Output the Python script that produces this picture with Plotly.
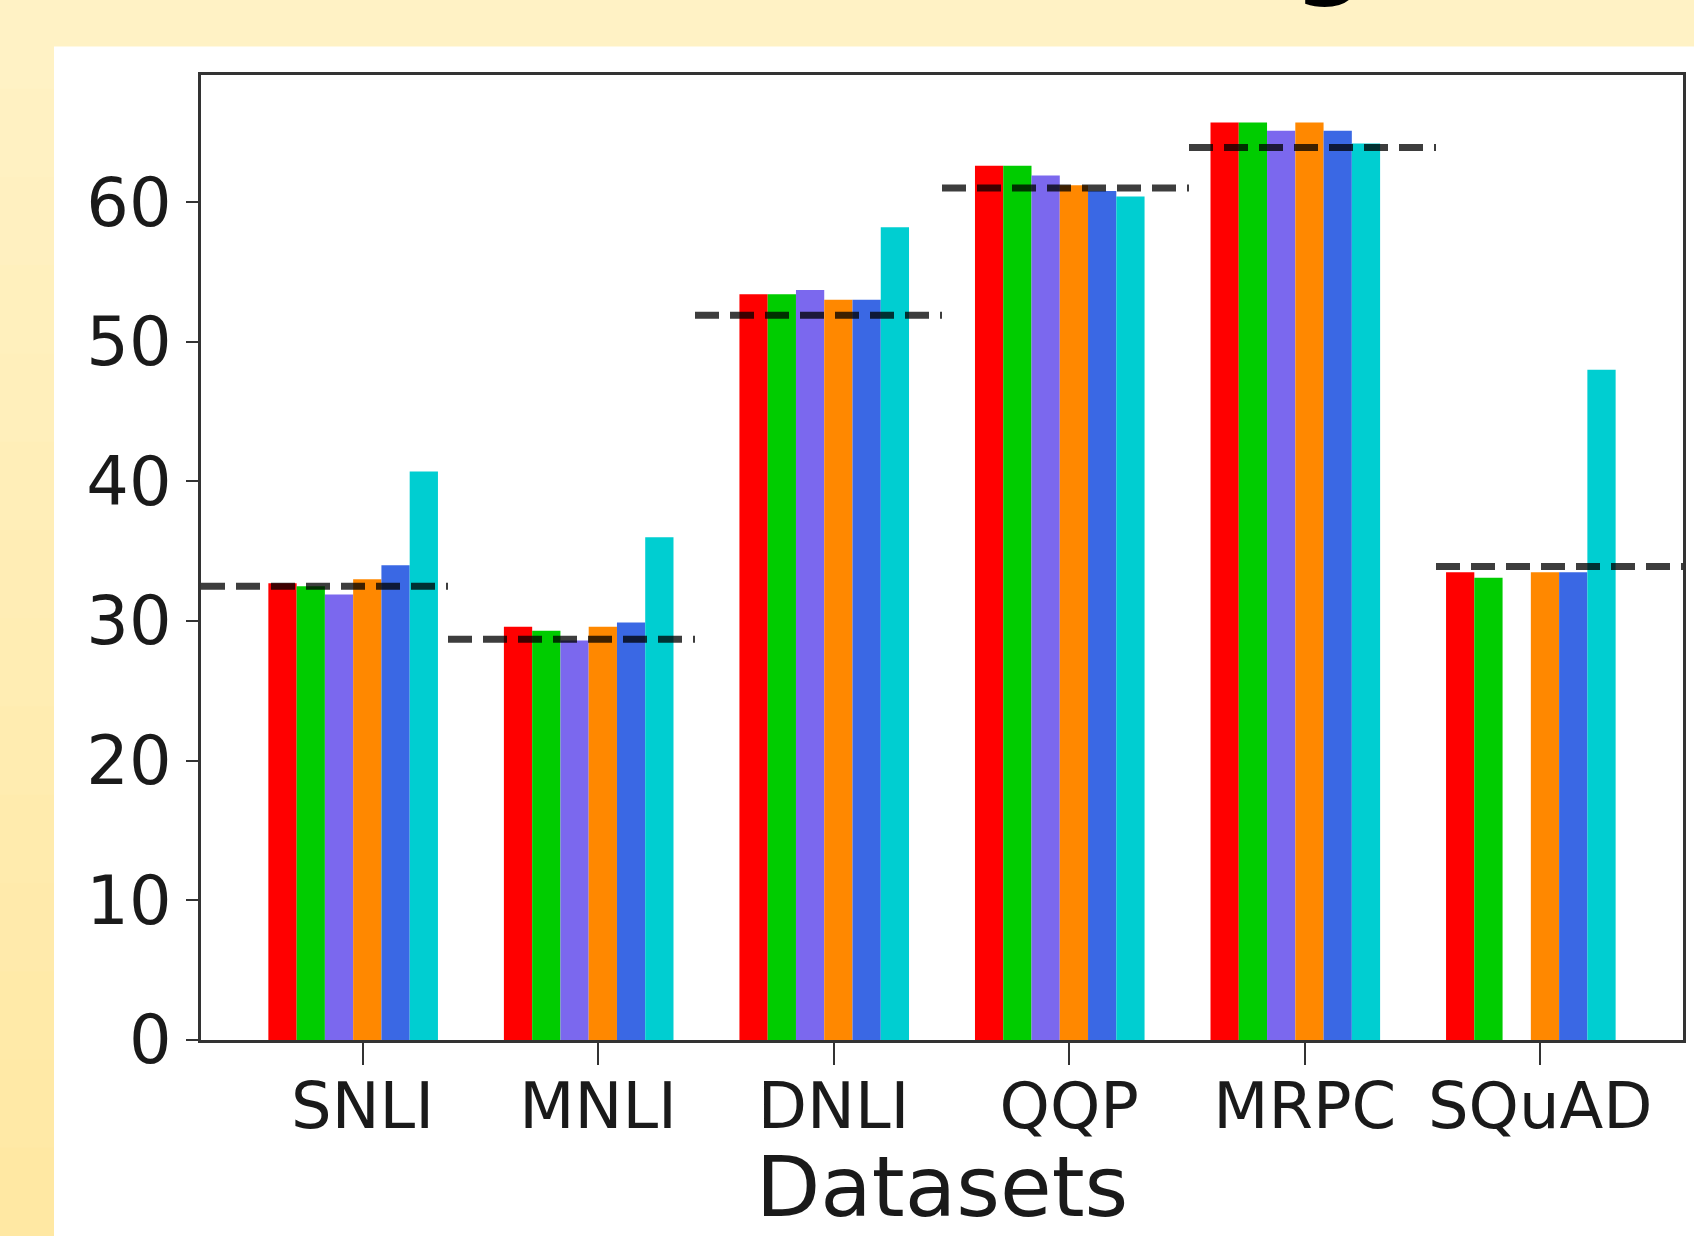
import plotly.graph_objects as go

# ---------------- data ----------------
categories = ["SNLI", "MNLI", "DNLI", "QQP", "MRPC", "SQuAD"]
series_names = ["s1", "s2", "s3", "s4", "s5", "s6"]
s1 = [32.7, 29.6, 53.4, 62.6, 65.7, 33.5]
s2 = [32.5, 29.3, 53.4, 62.6, 65.7, 33.1]
s3 = [31.9, 28.6, 53.7, 61.9, 65.1, None]
s4 = [33.0, 29.6, 53.0, 61.2, 65.7, 33.5]
s5 = [34.0, 29.9, 53.0, 60.8, 65.1, 33.5]
s6 = [40.7, 36.0, 58.2, 60.4, 64.2, 48.0]
baseline = [32.5, 28.7, 51.9, 61.0, 63.9, 33.9]
y_ticks = [0, 10, 20, 30, 40, 50, 60]
x_title = "Datasets"

# ---------------- style ----------------
colors = ["#FF0000", "#00CC00", "#7B68EE", "#FF8800", "#3A68E4", "#00CED1"]
W, H = 1694, 1236
L, R, T, B = 201, 11, 74.5, 196
bar_w = 0.12
first_edge = -0.40
FONT = "DejaVu Sans"

fig = go.Figure()
xs = list(range(len(categories)))
for j, (name, vals) in enumerate(zip(series_names, [s1, s2, s3, s4, s5, s6])):
    fig.add_trace(go.Bar(
        x=xs, y=vals, name=name, width=bar_w, offset=first_edge + j * bar_w,
        marker=dict(color=colors[j], line=dict(width=0)),
        showlegend=False,
    ))

# dashed baselines, one per sixth of the axis width
bx, by = [], []
for i, v in enumerate(baseline):
    bx += [i, i + 1, None]
    by += [v, v, None]
fig.add_trace(go.Scatter(
    x=bx, y=by, xaxis="x2", yaxis="y", mode="lines",
    line=dict(color="rgba(0,0,0,0.76)", width=7, dash="24px,11px"),
    showlegend=False, hoverinfo="skip",
))

# background: yellow gradient strips + white panel
pw = W - L - R
ph = H - T - B
def px_to_paper_x(px):
    return (px - L) / pw
def px_to_paper_y(py):
    return (H - B - py) / ph

shapes = []
n = 14
top_c = (255, 242, 197)
bot_c = (255, 232, 163)
for k in range(n):
    f = k / (n - 1)
    c = tuple(round(top_c[m] + (bot_c[m] - top_c[m]) * f) for m in range(3))
    shapes.append(dict(
        type="rect", xref="paper", yref="paper", layer="below",
        x0=px_to_paper_x(-2), x1=px_to_paper_x(W + 2),
        y0=px_to_paper_y(H * (k + 1) / n + 1), y1=px_to_paper_y(H * k / n - (2 if k == 0 else 0)),
        fillcolor="rgb(%d,%d,%d)" % c, line=dict(width=0),
    ))
shapes.append(dict(
    type="rect", xref="paper", yref="paper", layer="below",
    x0=px_to_paper_x(54), x1=px_to_paper_x(W + 5),
    y0=px_to_paper_y(H + 5), y1=px_to_paper_y(46),
    fillcolor="white", line=dict(width=0),
))

fig.update_layout(
    width=W, height=H,
    margin=dict(l=L, r=R, t=T, b=B, pad=0, autoexpand=False),
    paper_bgcolor="#FFEFBB",
    plot_bgcolor="white",
    barmode="overlay",
    shapes=shapes,
    font=dict(family=FONT, color="#1a1a1a"),
    xaxis=dict(
        range=[-0.686, 5.606], tickvals=xs, ticktext=categories,
        ticks="outside", ticklen=22, tickwidth=2, tickcolor="#333",
        showline=True, linecolor="#333", linewidth=3, mirror=True,
        showgrid=False, zeroline=False, automargin=True,
        tickfont=dict(size=64, family=FONT, color="#1a1a1a"),
        ticklabelstandoff=-14,
        title=dict(text=x_title, font=dict(size=84, family=FONT, color="#1a1a1a"), standoff=12),
    ),
    xaxis2=dict(range=[0, 6], overlaying="x", visible=False, showgrid=False, zeroline=False),
    yaxis=dict(
        range=[0, 69.1], tickvals=y_ticks,
        ticks="outside", ticklen=12, tickwidth=2, tickcolor="#333",
        showline=True, linecolor="#333", linewidth=3, mirror=True,
        showgrid=False, zeroline=False, automargin=False,
        tickfont=dict(size=67, family=FONT, color="#1a1a1a"),
        ticklabelstandoff=1,
    ),
    annotations=[dict(
        text="<b>g</b>", xref="paper", yref="paper",
        x=px_to_paper_x(1330), y=px_to_paper_y(10),
        xanchor="center", yanchor="bottom", showarrow=False,
        font=dict(size=100, family=FONT, color="black"),
    )],
)

fig.write_html(
    "out.html",
    config={"displayModeBar": False},
    post_script="document.body.style.margin='0';document.body.style.padding='0';document.body.style.overflow='hidden';",
)
